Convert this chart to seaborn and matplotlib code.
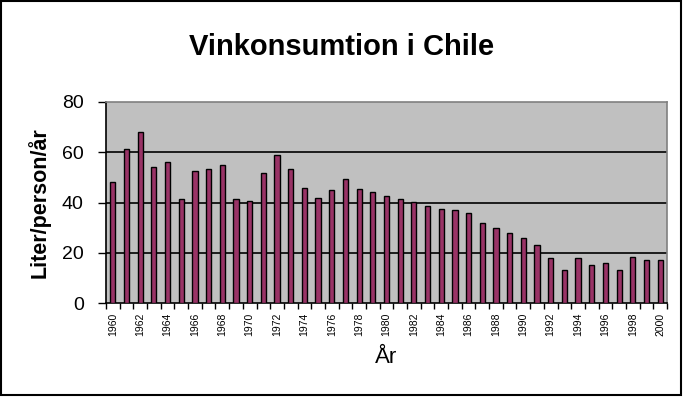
import matplotlib
matplotlib.use("Agg")
import matplotlib.pyplot as plt
import seaborn as sns
import pandas as pd
import numpy as np
from matplotlib.patches import Rectangle

years = list(range(1960, 2001))
values = [48, 61.3, 68, 54.1, 56.1, 41.4, 52.5, 53.3, 54.9, 41.4,
          40.6, 51.7, 58.9, 53.3, 45.8, 41.8, 45.0, 49.3, 45.4, 44.2,
          42.6, 41.4, 40.2, 38.6, 37.4, 37.0, 35.8, 31.8, 29.8, 27.9,
          25.9, 23.1, 17.9, 13.1, 17.9, 15.1, 15.9, 13.1, 18.3, 17.1, 17.1]
yticks = [0, 20, 40, 60, 80]
title = "Vinkonsumtion i Chile"
xlabel = "År"
ylabel = "Liter/person/år"

sns.set_style("white")
plt.rcParams['font.family'] = ['Liberation Sans', 'DejaVu Sans']
plt.rcParams.update({"text.color": "black", "axes.labelcolor": "black",
                     "xtick.color": "black", "ytick.color": "black"})

df = pd.DataFrame({"year": [str(y) for y in years], "value": values})

fig = plt.figure(figsize=(6.83, 3.97), dpi=100)
ax = fig.add_axes([106/683, 1-303/397, (667-106)/683, (303-102)/397])
ax.set_facecolor("#C0C0C0")

sns.barplot(data=df, x="year", y="value", color="#993366", width=0.38,
            edgecolor="black", linewidth=1.0, saturation=1, ax=ax, zorder=3)

ax.set_ylim(0, 80)
ax.set_xlim(-0.5, len(years) - 0.5)
ax.set_yticks(yticks)
ax.set_yticklabels([str(v) for v in yticks], fontsize=14)
for v in yticks[1:-1]:
    ax.axhline(v, color="black", linewidth=1.2, zorder=1)

labs = [str(y) if i % 2 == 0 else "" for i, y in enumerate(years)]
ax.set_xticks(range(len(years)))
ax.set_xticklabels(labs, rotation=90, fontsize=7.5)
ax.tick_params(axis="x", which="major", length=0, pad=7)
ax.set_xticks(np.arange(-0.5, len(years), 1.0), minor=True)
ax.tick_params(axis="x", which="minor", length=4, width=1, color="black", direction="out")
ax.tick_params(axis="y", length=6, width=1, color="black", direction="out", pad=10)
ax.tick_params(bottom=True, left=True, which="both")

for s in ["left", "bottom"]:
    ax.spines[s].set_color("black")
    ax.spines[s].set_linewidth(1.2)
for s in ["top", "right"]:
    ax.spines[s].set_visible(True)
    ax.spines[s].set_color("#808080")
    ax.spines[s].set_linewidth(1.2)

ax.set_xlabel(xlabel, fontsize=16, labelpad=8)
ax.set_ylabel(ylabel, fontsize=15.5, fontweight="bold", labelpad=8)
fig.text(0.5, 1-47/397, title, ha="center", va="center", fontsize=21, fontweight="bold")

fig.patches.append(Rectangle((0.001, 0.006), 0.996, 0.992, transform=fig.transFigure,
                             fill=False, edgecolor="black", linewidth=1.5))

fig.savefig("out.png", dpi=100, facecolor="white")
